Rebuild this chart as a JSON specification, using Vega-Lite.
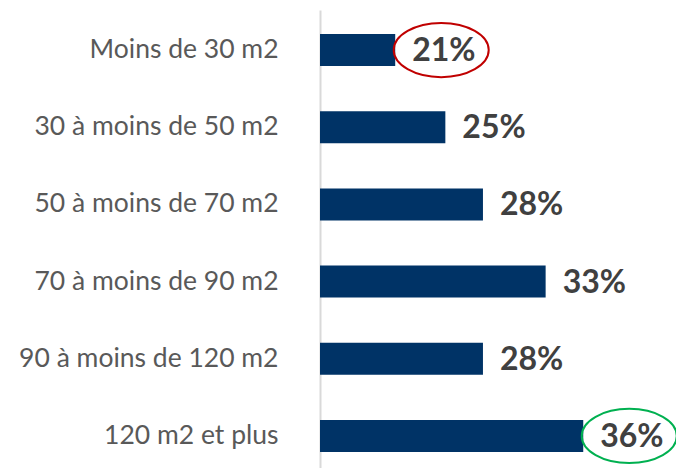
{
  "$schema": "https://vega.github.io/schema/vega-lite/v6.json",
  "width": 356,
  "height": 458,
  "autosize": "none",
  "padding": {"left": 320, "top": 10, "right": 0, "bottom": 0},
  "background": "white",
  "config": {"view": {"stroke": null}},
  "data": {
    "values": [
      {"cat": "Moins de 30 m2", "v": 21, "label": "21%", "circle": "#C00000"},
      {"cat": "30 à moins de 50 m2", "v": 25, "label": "25%", "circle": null},
      {"cat": "50 à moins de 70 m2", "v": 28, "label": "28%", "circle": null},
      {"cat": "70 à moins de 90 m2", "v": 33, "label": "33%", "circle": null},
      {"cat": "90 à moins de 120 m2", "v": 28, "label": "28%", "circle": null},
      {"cat": "120 m2 et plus", "v": 36, "label": "36%", "circle": "#00B050"}
    ]
  },
  "encoding": {
    "y": {
      "field": "cat",
      "type": "nominal",
      "sort": null,
      "scale": {"paddingInner": 0.585, "paddingOuter": 0.26, "align": 0.6},
      "axis": {
        "title": null,
        "ticks": false,
        "labelPadding": 42,
        "labelFont": "Lato",
        "labelFontSize": 26.5,
        "labelColor": "#595959",
        "domainColor": "#d9d9d9",
        "domainWidth": 2,
        "labelLimit": 400
      }
    },
    "x": {
      "field": "v",
      "type": "quantitative",
      "scale": {"domain": [15, 43.4], "zero": false, "nice": false},
      "axis": null
    }
  },
  "layer": [
    {
      "mark": {"type": "bar", "color": "#003366"},
      "encoding": {"x2": {"datum": 15}}
    },
    {
      "mark": {
        "type": "text",
        "align": "left",
        "baseline": "middle",
        "dx": 17,
        "dy": 1,
        "font": "Lato",
        "fontWeight": "bold",
        "fontSize": 32,
        "color": "#404040"
      },
      "encoding": {"text": {"field": "label"}}
    },
    {
      "transform": [{"filter": "datum.circle != null"}],
      "mark": {
        "type": "point",
        "shape": "M -1 0 A 1 0.57 0 1 1 1 0 A 1 0.57 0 1 1 -1 0 Z",
        "size": 9025,
        "filled": false,
        "strokeWidth": 2,
        "opacity": 1,
        "xOffset": 46
      },
      "encoding": {"color": {"field": "circle", "type": "nominal", "scale": null}}
    }
  ]
}
